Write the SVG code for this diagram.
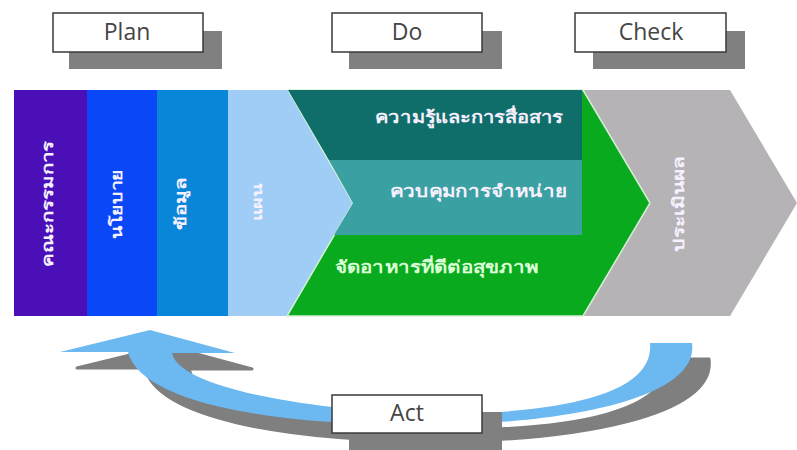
<svg xmlns="http://www.w3.org/2000/svg" width="797" height="450" viewBox="0 0 797 450">
<style>
.box{fill:#ffffff;stroke:#3a3a3a;stroke-width:1.5}
.shadow{fill:#808080}
.lbl{font-family:"Open Sans","Liberation Sans",sans-serif;font-size:23px;fill:#454545;text-anchor:middle}
.th{font-family:"Noto Sans","DejaVu Sans",sans-serif;fill:#f6f0ff;font-weight:bold}
.vt{font-size:15px;text-anchor:middle;dominant-baseline:central}
.ht{font-size:17px}
</style>
<rect width="797" height="450" fill="#ffffff"/>

<!-- Act arrow (connector) -->
<g id="connectors">
  <path transform="translate(17,16)" fill="#7f7f7f" stroke="#7f7f7f" stroke-width="3" stroke-linejoin="round" d="M650,343 L692,343 C700,400 560,425 420,425 C260,425 140,400 128,352 L60,352 L150,330 L235,353 L172,353 C178,385 290,408 420,414 C560,415 655,395 650,343 Z"/>
  <path fill="#6cb9f2" d="M650,343 L692,343 C700,400 560,425 420,425 C260,425 140,400 128,352 L60,352 L150,330 L235,353 L172,353 C178,385 290,408 420,414 C560,415 655,395 650,343 Z"/>
</g>

<!-- Plan header -->
<g id="plan">
  <rect class="shadow" x="69" y="31" width="153" height="38"/>
  <rect class="box" x="53" y="13" width="150" height="39"/>
  <text class="lbl" x="127" y="40">Plan</text>
</g>
<g id="do">
  <rect class="shadow" x="349" y="31" width="153" height="38"/>
  <rect class="box" x="332" y="13" width="150" height="39"/>
  <text class="lbl" x="407" y="40">Do</text>
</g>
<g id="check">
  <rect class="shadow" x="593" y="31" width="152" height="38"/>
  <rect class="box" x="575" y="13" width="151" height="39"/>
  <text class="lbl" x="651" y="40">Check</text>
</g>
<g id="act">
  <rect class="shadow" x="349" y="412" width="153" height="40"/>
  <rect class="box" x="332" y="395" width="150" height="38"/>
  <text class="lbl" x="407" y="421">Act</text>
</g>

<!-- Main band -->
<g id="committee">
  <rect x="14" y="90" width="73" height="226" fill="#4a0fb6"/>
  <text class="th vt" transform="translate(47,204) rotate(-90)" textLength="125" lengthAdjust="spacingAndGlyphs">คณะกรรมการ</text>
</g>
<g id="policy">
  <rect x="87" y="90" width="70" height="226" fill="#0a48f7"/>
  <text class="th vt" transform="translate(116,204) rotate(-90)" textLength="70" lengthAdjust="spacingAndGlyphs">นโยบาย</text>
</g>
<g id="data">
  <rect x="157" y="90" width="71" height="226" fill="#0a86d8"/>
  <text class="th vt" transform="translate(180,204) rotate(-90)" textLength="52" lengthAdjust="spacingAndGlyphs">ข้อมูล</text>
</g>
<g id="plan-col">
  <rect x="228" y="90" width="130" height="226" fill="#9fcdf6"/>
  <text class="th vt" style="font-size:13px" transform="translate(257,202) rotate(-90)" textLength="38" lengthAdjust="spacingAndGlyphs">แผน</text>
</g>
<g id="evaluate">
  <polygon points="575,90 730,90 797,203 730,316 575,316" fill="#b5b3b5"/>
  <text class="th vt" transform="translate(678,204) rotate(-90)" textLength="96" lengthAdjust="spacingAndGlyphs">ประเมินผล</text>
</g>
<g id="do-chevron">
  <polygon points="288,90 583,90 650,203 583,316 287,316 353,203" fill="#0aaa1f" stroke="#d6efd6" stroke-width="1.5"/>
  <polygon points="288,90 582,90 582,160 329,160" fill="#0f6e6a"/>
  <polygon points="329,160 582,160 582,235 334,235 353,203" fill="#3aa0a2"/>
  <text class="th ht" x="375" y="123" textLength="188" lengthAdjust="spacingAndGlyphs">ความรู้และการสื่อสาร</text>
  <text class="th ht" x="390" y="197" textLength="177" lengthAdjust="spacingAndGlyphs">ควบคุมการจำหน่าย</text>
  <text class="th ht" x="335" y="273" style="fill:#dcffd6" textLength="203" lengthAdjust="spacingAndGlyphs">จัดอาหารที่ดีต่อสุขภาพ</text>
</g>
</svg>
